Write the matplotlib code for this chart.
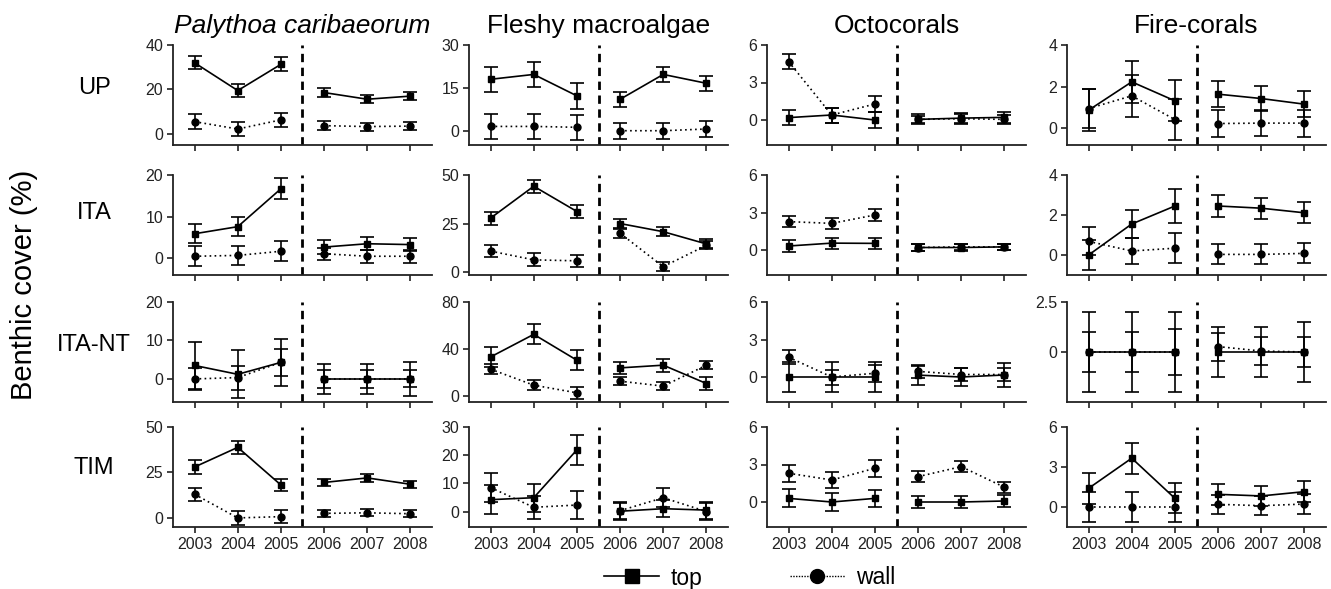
import matplotlib
matplotlib.use("Agg")
import matplotlib.pyplot as plt
from matplotlib.lines import Line2D
import numpy as np

plt.rcParams['font.family'] = ['Liberation Sans', 'DejaVu Sans']

years = [2003, 2004, 2005, 2006, 2007, 2008]
sites = ["UP", "ITA", "ITA-NT", "TIM"]
groups = ["Palythoa caribaeorum", "Fleshy macroalgae", "Octocorals", "Fire-corals"]

# rows = sites (UP, ITA, ITA-NT, TIM), columns = years
palythoa_top = [[32.0, 19.5, 31.3, 18.6, 15.6, 17.0],
                [5.9, 7.6, 16.7, 2.7, 3.5, 3.3],
                [3.5, 1.2, 4.3, 0.0, 0.0, 0.0],
                [28.0, 38.8, 18.1, 19.5, 22.0, 18.5]]
palythoa_top_err = [[3.0, 3.0, 3.2, 1.9, 1.8, 1.8],
                    [2.3, 2.3, 2.5, 1.6, 1.6, 1.6],
                    [6.2, 6.2, 6.2, 3.9, 3.9, 4.5],
                    [3.7, 3.5, 3.5, 2.0, 2.0, 2.0]]
palythoa_wall = [[5.5, 2.2, 6.3, 3.7, 3.3, 3.5],
                 [0.5, 0.7, 1.7, 1.1, 0.5, 0.5],
                 [0.0, 0.35, 4.3, 0.0, 0.0, 0.0],
                 [13.0, 0.0, 0.7, 2.5, 2.8, 2.3]]
palythoa_wall_err = [[3.3, 3.0, 3.2, 1.9, 1.8, 1.8],
                     [2.4, 2.3, 2.4, 1.5, 1.5, 1.5],
                     [2.8, 3.1, 3.5, 2.4, 2.4, 2.2],
                     [3.7, 3.7, 3.7, 2.0, 2.0, 2.0]]

fleshy_top = [[18.0, 19.7, 12.2, 11.0, 19.7, 16.6],
              [27.8, 44.2, 31.2, 25.0, 20.8, 14.5],
              [33.3, 52.5, 30.5, 24.0, 26.3, 10.7],
              [4.2, 4.9, 21.9, 0.1, 1.0, 0.5]]
fleshy_top_err = [[4.3, 4.3, 4.5, 2.7, 2.6, 2.7],
                  [3.3, 3.3, 3.6, 2.2, 2.3, 2.3],
                  [8.7, 8.5, 8.7, 5.2, 5.4, 5.5],
                  [5.1, 4.9, 5.3, 3.0, 3.0, 3.0]]
fleshy_wall = [[1.5, 1.5, 1.2, 0.0, 0.0, 0.6],
               [10.8, 6.3, 5.8, 20.0, 2.8, 13.8],
               [22.9, 9.3, 2.8, 12.7, 8.5, 26.3],
               [8.5, 1.5, 2.3, 0.3, 4.9, 0.0]]
fleshy_wall_err = [[4.3, 4.3, 4.3, 2.8, 2.8, 2.8],
                   [3.2, 3.4, 3.2, 2.2, 2.2, 2.0],
                   [4.5, 4.5, 4.9, 3.2, 3.3, 3.5],
                   [5.0, 4.0, 5.0, 3.0, 3.3, 3.0]]

octo_top = [[0.19, 0.4, 0.0, 0.05, 0.15, 0.21],
            [0.32, 0.55, 0.53, 0.2, 0.2, 0.25],
            [0.0, 0.0, 0.0, 0.15, 0.0, 0.16],
            [0.29, 0.0, 0.29, 0.0, 0.0, 0.08]]
octo_top_err = [[0.62, 0.6, 0.63, 0.4, 0.45, 0.45],
                [0.45, 0.45, 0.45, 0.25, 0.25, 0.25],
                [1.22, 1.2, 1.2, 0.75, 0.75, 0.95],
                [0.72, 0.7, 0.7, 0.45, 0.45, 0.5]]
octo_wall = [[4.67, 0.4, 1.28, 0.05, 0.1, 0.05],
             [2.27, 2.13, 2.8, 0.2, 0.25, 0.25],
             [1.58, 0.0, 0.3, 0.45, 0.2, 0.2],
             [2.3, 1.76, 2.7, 2.03, 2.83, 1.18]]
octo_wall_err = [[0.6, 0.6, 0.63, 0.3, 0.35, 0.35],
                 [0.45, 0.45, 0.45, 0.25, 0.25, 0.25],
                 [0.55, 0.6, 0.7, 0.5, 0.5, 0.5],
                 [0.7, 0.67, 0.7, 0.45, 0.43, 0.45]]

fire_top = [[0.87, 2.23, 1.32, 1.64, 1.43, 1.16],
            [0.0, 1.55, 2.45, 2.45, 2.34, 2.11],
            [0.0, 0.0, 0.0, 0.0, 0.0, 0.0],
            [1.4, 3.66, 0.65, 0.95, 0.83, 1.15]]
fire_top_err = [[1.02, 1.0, 0.98, 0.64, 0.62, 0.63],
                [0.74, 0.7, 0.84, 0.53, 0.52, 0.52],
                [2.0, 2.0, 2.0, 1.25, 1.25, 1.52],
                [1.15, 1.15, 1.13, 0.77, 0.75, 0.8]]
fire_wall = [[0.95, 1.56, 0.42, 0.23, 0.25, 0.25],
             [0.68, 0.2, 0.34, 0.03, 0.03, 0.08],
             [0.0, 0.0, 0.0, 0.27, 0.05, 0.0],
             [0.0, 0.0, 0.0, 0.2, 0.1, 0.22]]
fire_wall_err = [[0.92, 1.0, 1.0, 0.65, 0.62, 0.65],
                 [0.7, 0.65, 0.76, 0.5, 0.5, 0.5],
                 [1.0, 1.0, 1.15, 0.7, 0.72, 0.75],
                 [1.1, 1.15, 1.15, 0.7, 0.7, 0.75]]

# y-axis settings per column, per row
ylims = [[(-5, 40), (-4, 20), (-6, 20), (-5, 50)],
         [(-5, 30), (-1.5, 50), (-5, 80), (-5.5, 30)],
         [(-2, 6), (-2, 6), (-2, 6), (-2, 6)],
         [(-0.8, 4), (-1, 4), (-2.5, 2.5), (-1.5, 6)]]
yticks = [[[0, 20, 40], [0, 10, 20], [0, 10, 20], [0, 25, 50]],
          [[0, 15, 30], [0, 25, 50], [0, 40, 80], [0, 10, 20, 30]],
          [[0, 3, 6], [0, 3, 6], [0, 3, 6], [0, 3, 6]],
          [[0, 2, 4], [0, 2, 4], [0, 2.5], [0, 3, 6]]]

tops = [palythoa_top, fleshy_top, octo_top, fire_top]
top_errs = [palythoa_top_err, fleshy_top_err, octo_top_err, fire_top_err]
walls = [palythoa_wall, fleshy_wall, octo_wall, fire_wall]
wall_errs = [palythoa_wall_err, fleshy_wall_err, octo_wall_err, fire_wall_err]

W, H = 1331, 589
fig = plt.figure(figsize=(W / 100, H / 100), dpi=100)

col_left = [173, 469, 767, 1067]
col_w = 259
row_top = [45, 175, 302, 427]
row_h = 100

x = np.arange(len(years))
segs = [slice(0, 3), slice(3, 6)]

for c in range(4):
    for r in range(4):
        ax = fig.add_axes([col_left[c] / W, 1 - (row_top[r] + row_h) / H,
                           col_w / W, row_h / H])
        t = np.array(tops[c][r]); te = np.array(top_errs[c][r])
        w = np.array(walls[c][r]); we = np.array(wall_errs[c][r])
        for s in segs:
            ax.errorbar(x[s], w[s], yerr=we[s], fmt='o', ls=(0, (1, 2)),
                        color='k', ms=5, lw=1.2, elinewidth=1.2,
                        capsize=5, capthick=1.2)
            ax.errorbar(x[s], t[s], yerr=te[s], fmt='s', ls='-',
                        color='k', ms=5, lw=1.2, elinewidth=1.2,
                        capsize=5, capthick=1.2)
        ax.axvline(2.5, color='k', lw=2, ls=(0, (3, 2)))
        ax.set_xlim(-0.5, 5.5)
        ax.set_ylim(*ylims[c][r])
        ax.set_yticks(yticks[c][r])
        ax.set_yticklabels([f"{v:g}" for v in yticks[c][r]])
        ax.set_xticks(x)
        if r == 3:
            ax.set_xticklabels([str(y) for y in years])
        else:
            ax.set_xticklabels([])
        for sp in ['top', 'right']:
            ax.spines[sp].set_visible(False)
        for sp in ['left', 'bottom']:
            ax.spines[sp].set_linewidth(1.3)
            ax.spines[sp].set_color('#222222')
        ax.tick_params(direction='out', length=4, width=1.2, labelsize=11.5,
                       colors='#222222', pad=3)
    fig.text((col_left[c] + col_w / 2) / W, 1 - 33 / H, groups[c],
             ha='center', va='baseline', fontsize=19,
             style='italic' if c == 0 else 'normal')

row_label_y = [88, 213, 345, 468]
for r in range(4):
    fig.text(94 / W, 1 - row_label_y[r] / H, sites[r], ha='center',
             va='center', fontsize=17)

fig.text(24 / W, 1 - 285 / H, "Benthic cover (%)", rotation=90,
         ha='center', va='center', fontsize=21)

h_top = Line2D([], [], color='k', ls='-', lw=1.2, marker='s', ms=10)
h_wall = Line2D([], [], color='k', ls=(0, (1, 1)), lw=1.0, marker='o', ms=10)
fig.legend([h_top, h_wall], ["top", "wall"], loc='center',
           bbox_to_anchor=(750 / W, 1 - 578 / H), ncol=2, frameon=False,
           fontsize=16.5, handlelength=2.4, columnspacing=3.8,
           handletextpad=0.5, borderpad=0)

fig.savefig("out.png", dpi=100)
